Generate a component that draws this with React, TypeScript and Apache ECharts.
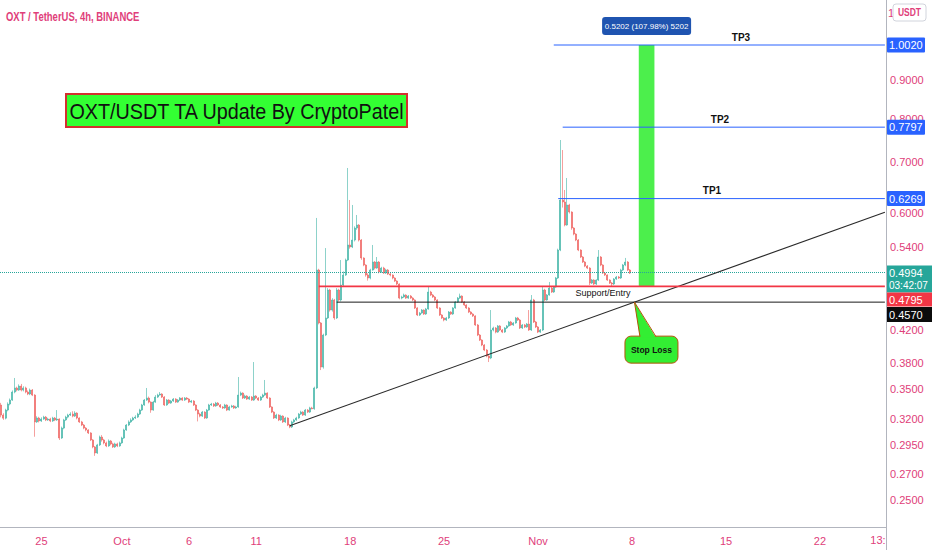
import React, { useEffect, useRef } from "react";
import * as echarts from "echarts";

// ---- data (OXT/USDT 4h, BINANCE) ----
const startUTC = Date.UTC(2021, 8, 22, 0, 0); // first 4h bar
const barHours = 4;
const totalBars = 396; // incl. empty future bars on the right

const firstOpen = 0.3338;
const closes = [
  0.3237, 0.3207, 0.3287, 0.3348, 0.3389, 0.3473, 0.3516, 0.3494, 0.3537, 0.3494,
  0.3516, 0.3473, 0.3452, 0.3494, 0.3441, 0.317, 0.3208, 0.3179, 0.3198, 0.3217,
  0.3189, 0.3198, 0.3179, 0.3208, 0.3189, 0.3198, 0.3018, 0.3111, 0.3189, 0.3217,
  0.3237, 0.3247, 0.3227, 0.3257, 0.3208, 0.317, 0.314, 0.3111, 0.3093, 0.3065,
  0.3, 0.2937, 0.2883, 0.2955, 0.3027, 0.3, 0.2973, 0.2946, 0.2991, 0.2964,
  0.2937, 0.2964, 0.2946, 0.2973, 0.3018, 0.3093, 0.314, 0.317, 0.3189, 0.3208,
  0.3217, 0.3247, 0.3287, 0.3338, 0.3389, 0.341, 0.3368, 0.3287, 0.3368, 0.342,
  0.3441, 0.3452, 0.342, 0.3338, 0.3389, 0.3358, 0.3379, 0.3399, 0.3368, 0.3389,
  0.341, 0.3389, 0.341, 0.3399, 0.3368, 0.3379, 0.3338, 0.3287, 0.3247, 0.3227,
  0.3267, 0.3208, 0.3287, 0.3338, 0.3348, 0.3328, 0.3358, 0.3338, 0.3318, 0.3308,
  0.3338, 0.3287, 0.3318, 0.3328, 0.3308, 0.3318, 0.3441, 0.3462, 0.341, 0.3431,
  0.3399, 0.342, 0.3389, 0.3431, 0.341, 0.3389, 0.342, 0.3441, 0.3462, 0.341,
  0.3318, 0.3267, 0.3208, 0.3237, 0.3189, 0.3227, 0.317, 0.3208, 0.314, 0.3121,
  0.317, 0.3189, 0.3208, 0.3247, 0.3267, 0.3237, 0.3287, 0.3267, 0.3308, 0.33,
  0.3516, 0.5041, 0.4288, 0.3748, 0.4133, 0.4354, 0.4742, 0.4461, 0.46, 0.4354,
  0.4742, 0.46, 0.4815, 0.4964, 0.5197, 0.5441, 0.5408, 0.5524, 0.573, 0.5783,
  0.5524, 0.5229, 0.5118, 0.4964, 0.4919, 0.5041, 0.5165, 0.5071, 0.5165, 0.501,
  0.5071, 0.4995, 0.5041, 0.498, 0.4964, 0.4919, 0.4874, 0.483, 0.4627, 0.4642,
  0.467, 0.4627, 0.4656, 0.4627, 0.46, 0.4489, 0.4394, 0.442, 0.4461, 0.4407,
  0.4475, 0.4713, 0.467, 0.4642, 0.46, 0.4489, 0.4394, 0.4354, 0.4327, 0.4354,
  0.4434, 0.4407, 0.4489, 0.4572, 0.4627, 0.4656, 0.4572, 0.453, 0.4489, 0.4434,
  0.4407, 0.4381, 0.4262, 0.4133, 0.407, 0.4009, 0.3948, 0.3876, 0.3853, 0.4197,
  0.4223, 0.4171, 0.4249, 0.4197, 0.4171, 0.4223, 0.4249, 0.4301, 0.4262, 0.4288,
  0.4354, 0.4327, 0.4223, 0.4262, 0.4236, 0.4274, 0.4197, 0.46, 0.4301, 0.4236,
  0.4171, 0.4197, 0.4742, 0.46, 0.467, 0.4771, 0.4713, 0.4786, 0.4919, 0.5358,
  0.6242, 0.6204, 0.5783, 0.6148, 0.6017, 0.573, 0.5626, 0.5524, 0.5358, 0.5245,
  0.5165, 0.5102, 0.5071, 0.4844, 0.4889, 0.483, 0.4889, 0.5245, 0.5118, 0.4995,
  0.4964, 0.4889, 0.4844, 0.483, 0.4904, 0.4934, 0.4919, 0.5041, 0.5118, 0.5165,
  0.5041, 0.4994,
];
const highs = [
  0.336, 0.3255, 0.33, 0.3365, 0.3405, 0.349, 0.3625, 0.353, 0.3555, 0.356,
  0.3535, 0.353, 0.349, 0.351, 0.3505, 0.345, 0.3225, 0.322, 0.3215, 0.323,
  0.3228, 0.321, 0.321, 0.322, 0.3218, 0.3287, 0.3205, 0.3125, 0.32, 0.323,
  0.325, 0.3265, 0.3275, 0.3275, 0.3265, 0.3215, 0.318, 0.315, 0.312, 0.31,
  0.3072, 0.3008, 0.2945, 0.2965, 0.304, 0.3045, 0.301, 0.2985, 0.3005, 0.3,
  0.2975, 0.2975, 0.2975, 0.2985, 0.303, 0.3105, 0.315, 0.3185, 0.3205, 0.322,
  0.3235, 0.326, 0.33, 0.335, 0.34, 0.3516, 0.3425, 0.3375, 0.338, 0.344,
  0.3455, 0.3473, 0.346, 0.343, 0.34, 0.3398, 0.339, 0.341, 0.3408, 0.34,
  0.342, 0.3418, 0.342, 0.342, 0.3408, 0.339, 0.3388, 0.3345, 0.3295, 0.326,
  0.3278, 0.3275, 0.3298, 0.335, 0.336, 0.3358, 0.337, 0.3368, 0.3348, 0.3328,
  0.335, 0.3345, 0.333, 0.334, 0.3338, 0.333, 0.3636, 0.3478, 0.347, 0.3445,
  0.344, 0.3432, 0.343, 0.3806, 0.344, 0.342, 0.3432, 0.3455, 0.3603, 0.347,
  0.3418, 0.3325, 0.3275, 0.325, 0.3245, 0.324, 0.3235, 0.322, 0.3215, 0.315,
  0.3182, 0.32, 0.322, 0.3258, 0.328, 0.3275, 0.3298, 0.3297, 0.332, 0.332,
  0.353, 0.5909, 0.506, 0.43, 0.415, 0.539, 0.477, 0.476, 0.4625, 0.4615,
  0.477, 0.476, 0.5197, 0.502, 0.522, 0.6883, 0.6242, 0.6148, 0.576, 0.5963,
  0.58, 0.554, 0.524, 0.513, 0.499, 0.506, 0.5441, 0.518, 0.5245, 0.518,
  0.509, 0.509, 0.506, 0.5055, 0.4995, 0.4975, 0.493, 0.4885, 0.484, 0.466,
  0.469, 0.468, 0.467, 0.467, 0.464, 0.461, 0.45, 0.4435, 0.4475, 0.447,
  0.449, 0.479, 0.473, 0.4685, 0.4655, 0.461, 0.45, 0.4405, 0.4365, 0.4368,
  0.4448, 0.4445, 0.45, 0.4585, 0.4642, 0.469, 0.4665, 0.4585, 0.454, 0.45,
  0.4445, 0.4418, 0.439, 0.4275, 0.4145, 0.408, 0.402, 0.396, 0.389, 0.4461,
  0.424, 0.4235, 0.4262, 0.426, 0.421, 0.4235, 0.4262, 0.4315, 0.4315, 0.43,
  0.4368, 0.4368, 0.434, 0.4275, 0.4275, 0.4288, 0.4461, 0.467, 0.4615, 0.4315,
  0.4248, 0.421, 0.4786, 0.476, 0.4685, 0.486, 0.4785, 0.48, 0.4935, 0.538,
  0.7497, 0.7271, 0.6436, 0.6676, 0.617, 0.603, 0.5745, 0.564, 0.554, 0.537,
  0.526, 0.518, 0.5118, 0.5085, 0.4905, 0.49, 0.49, 0.5358, 0.526, 0.513,
  0.501, 0.4975, 0.49, 0.486, 0.4918, 0.495, 0.495, 0.506, 0.5135, 0.523,
  0.518, 0.5055,
];
const lows = [
  0.3215, 0.319, 0.3195, 0.3275, 0.3335, 0.338, 0.346, 0.348, 0.3485, 0.348,
  0.348, 0.346, 0.344, 0.344, 0.343, 0.303, 0.316, 0.3165, 0.317, 0.319,
  0.3178, 0.318, 0.3168, 0.317, 0.3178, 0.318, 0.3, 0.301, 0.31, 0.318,
  0.3205, 0.3228, 0.3215, 0.3218, 0.3195, 0.316, 0.313, 0.31, 0.308, 0.3055,
  0.299, 0.2925, 0.2858, 0.2875, 0.2945, 0.2985, 0.296, 0.2935, 0.2938, 0.2952,
  0.2928, 0.2928, 0.2935, 0.2938, 0.2965, 0.301, 0.3085, 0.313, 0.316, 0.318,
  0.3198, 0.3208, 0.3238, 0.3278, 0.333, 0.338, 0.3355, 0.326, 0.328, 0.336,
  0.341, 0.3435, 0.341, 0.3328, 0.333, 0.3348, 0.335, 0.337, 0.3358, 0.336,
  0.338, 0.338, 0.338, 0.339, 0.3358, 0.3358, 0.3328, 0.3277, 0.3175, 0.3215,
  0.3218, 0.3198, 0.32, 0.328, 0.3328, 0.3318, 0.332, 0.3328, 0.3308, 0.3298,
  0.33, 0.3277, 0.328, 0.331, 0.3298, 0.33, 0.331, 0.343, 0.34, 0.34,
  0.339, 0.339, 0.338, 0.338, 0.34, 0.338, 0.338, 0.341, 0.3432, 0.34,
  0.3308, 0.3257, 0.3198, 0.3198, 0.3178, 0.318, 0.316, 0.316, 0.313, 0.311,
  0.3112, 0.316, 0.318, 0.32, 0.3238, 0.3228, 0.3228, 0.3257, 0.3258, 0.3295,
  0.329, 0.3505, 0.427, 0.3714, 0.373, 0.412, 0.434, 0.444, 0.444, 0.433,
  0.434, 0.458, 0.458, 0.48, 0.495, 0.518, 0.538, 0.539, 0.55, 0.57,
  0.55, 0.52, 0.51, 0.494, 0.488, 0.49, 0.503, 0.505, 0.506, 0.499,
  0.5, 0.498, 0.498, 0.4965, 0.4945, 0.49, 0.486, 0.4815, 0.461, 0.461,
  0.463, 0.4615, 0.4615, 0.4615, 0.4585, 0.4475, 0.438, 0.438, 0.441, 0.4395,
  0.4395, 0.4465, 0.4655, 0.463, 0.4585, 0.4475, 0.438, 0.434, 0.431, 0.4315,
  0.434, 0.4395, 0.4395, 0.4478, 0.456, 0.4615, 0.456, 0.4518, 0.4475, 0.442,
  0.4395, 0.4368, 0.425, 0.412, 0.4058, 0.3995, 0.3935, 0.3862, 0.3806, 0.384,
  0.418, 0.4155, 0.416, 0.4185, 0.4158, 0.416, 0.421, 0.4238, 0.425, 0.425,
  0.4278, 0.4315, 0.421, 0.421, 0.4222, 0.4225, 0.4185, 0.4185, 0.4288, 0.4222,
  0.4158, 0.416, 0.4185, 0.4585, 0.459, 0.466, 0.47, 0.47, 0.4775, 0.4905,
  0.534, 0.61, 0.576, 0.577, 0.599, 0.57, 0.5605, 0.5505, 0.534, 0.5228,
  0.515, 0.5085, 0.5055, 0.4815, 0.483, 0.4815, 0.4815, 0.4875, 0.51, 0.498,
  0.495, 0.4875, 0.483, 0.4786, 0.4815, 0.489, 0.4905, 0.4905, 0.5025, 0.51,
  0.5025, 0.498,
];

// axis ticks
const dateTickDays = [
  "2021-09-25", "2021-10-01", "2021-10-06", "2021-10-11", "2021-10-18",
  "2021-10-25", "2021-11-01", "2021-11-08", "2021-11-15", "2021-11-22",
];
const dateTickLabels = ["25", "Oct", "6", "11", "18", "25", "Nov", "8", "15", "22"];
const priceTicks = [0.25, 0.27, 0.295, 0.32, 0.35, 0.38, 0.42, 0.54, 0.6, 0.7, 0.8, 0.9];
const topTickStub = "1"; // visible start of the 1.1000 label, hidden behind the USDT badge

// annotations
const lastPrice = 0.4994;
const countdown = "03:42:07";
const entryPrice = 0.4795;
const stopPrice = 0.457;
const tp1 = 0.6269;
const tp2 = 0.7797;
const tp3 = 1.002;
const targetStats = "0.5202 (107.98%) 5202";
const trendStart = { bar: 129, price: 0.3133 };
const trendEnd = { bar: 395, price: 0.6012 };
const entryFromBar = 142;
const stopFromBar = 150;
const tp1FromBar = 249;
const tp2FromBar = 251;
const tp3FromBar = 247;
const positionBars = [285, 292];

// ---- styling ----
const PINK = "#e0407a";
const UP = "#3fb3a6";
const DOWN = "#ef5f5c";
const BLUE = "#2962ff";
const FONT = "'Liberation Sans',Arial,sans-serif";

const pad = (n: number) => (n < 10 ? "0" + n : "" + n);
const categories: string[] = [];
for (let i = 0; i < totalBars; i++) {
  const d = new Date(startUTC + i * barHours * 3600 * 1000);
  categories.push(
    `${d.getUTCFullYear()}-${pad(d.getUTCMonth() + 1)}-${pad(d.getUTCDate())} ${pad(d.getUTCHours())}:00`
  );
}
const tickIndex = new Map<number, string>();
dateTickDays.forEach((day, k) => {
  const idx = categories.indexOf(day + " 00:00");
  if (idx >= 0) tickIndex.set(idx, dateTickLabels[k]);
});

const candleData = closes.map((c, i) => [i === 0 ? firstOpen : closes[i - 1], c, lows[i], highs[i]]);

const hLine = (name: string, fromBar: number, price: number, color: string, width: number) => ({
  type: "line",
  name,
  data: [
    [categories[fromBar], price],
    [categories[totalBars - 1], price],
  ],
  symbol: "none",
  silent: true,
  z: 5,
  lineStyle: { color, width },
});

export default function App() {
  const ref = useRef<HTMLDivElement>(null);
  useEffect(() => {
    const chart = echarts.init(ref.current!, null, { renderer: "svg" });
    chart.setOption({
      animation: false,
      backgroundColor: "#ffffff",
      grid: { left: 0, right: 46, top: 0, bottom: 23 },
      xAxis: {
        type: "category",
        data: categories,
        boundaryGap: true,
        axisLine: { show: true, lineStyle: { color: "#b2b5be" } },
        axisTick: { show: false },
        splitLine: { show: false },
        axisLabel: {
          interval: (idx: number) => tickIndex.has(idx),
          formatter: (_v: string, idx: number) => tickIndex.get(idx) || "",
          color: PINK,
          fontSize: 11,
          fontFamily: FONT,
          margin: 8,
        },
      },
      yAxis: {
        type: "log",
        logBase: 10,
        min: 0.23,
        max: 1.1496,
        position: "right",
        axisLine: { show: true, lineStyle: { color: "#b2b5be" } },
        axisTick: { show: false },
        axisLabel: { show: false },
        splitLine: { show: false },
      },
      series: [
        {
          type: "candlestick",
          data: candleData,
          barWidth: 1.5,
          z: 3,
          itemStyle: { color: UP, color0: DOWN, borderColor: UP, borderColor0: DOWN, borderWidth: 0.6 },
          markLine: {
            silent: true,
            symbol: "none",
            label: { show: false },
            lineStyle: { color: "#26a69a", type: "dotted", width: 1 },
            data: [{ yAxis: lastPrice }],
          },
          markArea: {
            silent: true,
            itemStyle: { color: "#4cef4c" },
            data: [
              [
                { xAxis: categories[positionBars[0]], yAxis: entryPrice },
                { xAxis: categories[positionBars[1]], yAxis: tp3 },
              ],
            ],
          },
        },
        {
          type: "line",
          name: "trend",
          data: [
            [categories[trendStart.bar], trendStart.price],
            [categories[trendEnd.bar], trendEnd.price],
          ],
          symbol: "none",
          silent: true,
          z: 5,
          lineStyle: { color: "#2a2a2a", width: 1.1 },
        },
        hLine("entry", entryFromBar, entryPrice, "#f23645", 1.6),
        hLine("stop", stopFromBar, stopPrice, "#1a1a1a", 1),
        hLine("tp1", tp1FromBar, tp1, BLUE, 1),
        hLine("tp2", tp2FromBar, tp2, BLUE, 1),
        hLine("tp3", tp3FromBar, tp3, BLUE, 1),
      ],
    });

    const py = (p: number) => chart.convertToPixel({ yAxisIndex: 0 }, p) as number;
    const pt = (bar: number, p: number) =>
      chart.convertToPixel({ gridIndex: 0 }, [categories[bar], p]) as number[];

    const axX = 886;
    const g: any[] = [];
    // y tick labels
    priceTicks.forEach((v) => {
      g.push({
        type: "text",
        z: 50,
        style: { text: v.toFixed(4), x: axX + 4, y: py(v), fill: PINK, font: `11px ${FONT}`, verticalAlign: "middle", align: "left" },
      });
    });
    g.push({ type: "text", z: 50, style: { text: topTickStub, x: axX + 2, y: 13, fill: PINK, font: `11px ${FONT}`, verticalAlign: "middle", align: "left" } });

    const box = (yC: number, h: number, fill: string, lines: string[], sizes: number[]) => {
      g.push({ type: "rect", z: 60, shape: { x: axX + 1, y: yC - h / 2, width: 45, height: h }, style: { fill } });
      lines.forEach((t, k) => {
        g.push({
          type: "text",
          z: 61,
          style: { text: t, x: axX + 3, y: yC - h / 2 + 7.5 + k * 12, fill: "#ffffff", font: `${sizes[k]}px ${FONT}`, verticalAlign: "middle", align: "left" },
        });
      });
    };
    const blueBox = (p: number) => {
      const y = py(p);
      g.push({ type: "rect", z: 60, shape: { x: axX + 1, y: y - 7.5, width: 38, height: 15, r: 1 }, style: { fill: BLUE } });
      g.push({ type: "text", z: 61, style: { text: p.toFixed(4), x: axX + 3, y, fill: "#fff", font: `11px ${FONT}`, verticalAlign: "middle", align: "left" } });
    };
    blueBox(tp3);
    blueBox(tp2);
    blueBox(tp1);
    const yLast = py(lastPrice);
    const lastTop = yLast - 7.5;
    box(lastTop + 13.5, 27, "#26a69a", [lastPrice.toFixed(4), countdown], [11, 10]);
    const redC = Math.max(py(entryPrice), lastTop + 27 + 7);
    box(redC, 14, "#f23645", [entryPrice.toFixed(4)], [11]);
    const blackC = Math.max(py(stopPrice), redC + 15);
    box(blackC, 15, "#0b0b0b", [stopPrice.toFixed(4)], [11]);

    // USDT badge
    g.push({ type: "rect", z: 70, shape: { x: 893, y: 4, width: 33, height: 17, r: 3 }, style: { fill: "#fff", stroke: "#d1d4dc", lineWidth: 1 } });
    g.push({ type: "text", z: 71, x: 909.5, y: 12.5, scaleX: 0.85, style: { text: "USDT", x: 0, y: 0, fill: PINK, font: `bold 10px ${FONT}`, align: "center", verticalAlign: "middle" } });
    // bottom-right frame
    g.push({ type: "line", z: 50, shape: { x1: axX + 0.5, y1: 527, x2: axX + 0.5, y2: 550 }, style: { stroke: "#b2b5be", lineWidth: 1 } });
    g.push({ type: "text", z: 50, style: { text: "13:", x: 878, y: 540, fill: PINK, font: `11px ${FONT}`, align: "center", verticalAlign: "middle" } });

    // symbol title
    g.push({ type: "text", z: 50, x: 6, y: 17, scaleX: 0.79, style: { text: "OXT / TetherUS, 4h, BINANCE", x: 0, y: 0, fill: PINK, font: `600 12px ${FONT}`, align: "left", verticalAlign: "middle" } });

    // title box
    g.push({ type: "rect", z: 50, shape: { x: 66, y: 94, width: 341, height: 33 }, style: { fill: "#33ff33", stroke: "#d32f2f", lineWidth: 2 } });
    g.push({ type: "text", z: 51, x: 236.5, y: 111, scaleX: 0.9, style: { text: "OXT/USDT TA Update By CryptoPatel", x: 0, y: 0, fill: "#111", font: `22px ${FONT}`, align: "center", verticalAlign: "middle" } });

    // position stats box
    const pa = pt(positionBars[0], tp3);
    const pb = pt(positionBars[1], tp3);
    const cx = (pa[0] + pb[0]) / 2;
    g.push({ type: "rect", z: 50, shape: { x: cx - 44.5, y: pa[1] - 28, width: 89, height: 18, r: 3 }, style: { fill: "#1f54b0" } });
    g.push({ type: "text", z: 51, style: { text: targetStats, x: cx, y: pa[1] - 19, fill: "#fff", font: `8px ${FONT}`, align: "center", verticalAlign: "middle" } });

    // TP labels
    const tpLabel = (t: string, x: number, p: number) =>
      g.push({ type: "text", z: 50, style: { text: t, x, y: py(p) - 8, fill: "#111", font: `bold 10px ${FONT}`, align: "center", verticalAlign: "middle" } });
    tpLabel("TP3", 741, tp3);
    tpLabel("TP2", 720, tp2);
    tpLabel("TP1", 712, tp1);

    // Support / Entry
    g.push({ type: "text", z: 50, style: { text: "Support/Entry", x: 603, y: py(entryPrice) + 7, fill: "#111", font: `9px ${FONT}`, align: "center", verticalAlign: "middle" } });

    // Stop loss callout at trendline / stop intersection
    const t1 = pt(trendStart.bar, trendStart.price);
    const t2 = pt(trendEnd.bar, trendEnd.price);
    const yS = py(stopPrice);
    const xS = t1[0] + ((yS - t1[1]) * (t2[0] - t1[0])) / (t2[1] - t1[1]);
    const bx = xS - 9.5;
    const by = yS + 34;
    g.push({ type: "rect", z: 50, shape: { x: bx, y: by, width: 53, height: 27, r: 6 }, style: { fill: "#33ee33", stroke: "#b4540a", lineWidth: 1 } });
    g.push({ type: "polygon", z: 51, shape: { points: [[xS, yS], [bx + 15, by + 1.5], [bx + 31, by + 1.5]] }, style: { fill: "#33ee33" } });
    g.push({ type: "polyline", z: 52, shape: { points: [[bx + 15, by + 0.5], [xS, yS], [bx + 31, by + 0.5]] }, style: { stroke: "#b4540a", lineWidth: 1, fill: null } });
    g.push({ type: "text", z: 53, style: { text: "Stop Loss", x: bx + 26.5, y: by + 14, fill: "#111", font: `bold 8.5px ${FONT}`, align: "center", verticalAlign: "middle" } });

    chart.setOption({ graphic: g });
    return () => chart.dispose();
  }, []);
  return <div ref={ref} style={{ position: "absolute", left: 0, top: 0, width: 932, height: 550 }} />;
}
